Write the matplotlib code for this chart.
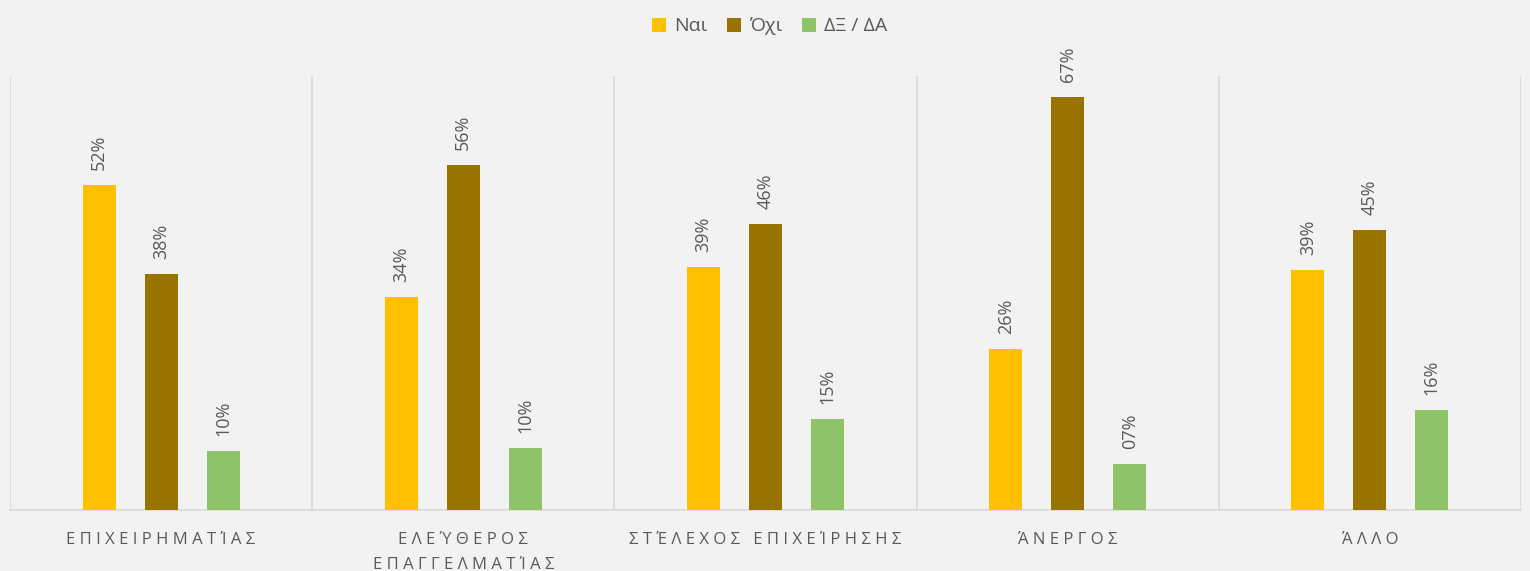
import matplotlib.pyplot as plt
import numpy as np

categories = ["ΕΠΙΧΕΙΡΗΜΑΤΊΑΣ", "ΕΛΕΎΘΕΡΟΣ\nΕΠΑΓΓΕΛΜΑΤΊΑΣ", "ΣΤΈΛΕΧΟΣ ΕΠΙΧΕΊΡΗΣΗΣ",
              "ΆΝΕΡΓΟΣ", "ΆΛΛΟ"]
series_names = ["Ναι", "Όχι", "ΔΞ / ΔΑ"]
nai = [0.525, 0.344, 0.392, 0.260, 0.387]
oxi = [0.381, 0.556, 0.462, 0.666, 0.452]
dk = [0.095, 0.100, 0.147, 0.074, 0.161]
labels_nai = ["52%", "34%", "39%", "26%", "39%"]
labels_oxi = ["38%", "56%", "46%", "67%", "45%"]
labels_dk = ["10%", "10%", "15%", "07%", "16%"]
colors = ["#ffc000", "#997300", "#8fc36a"]

bg = "#f2f2f2"
txt = "#595959"
plt.rcParams['font.family'] = ['Open Sans', 'DejaVu Sans']


def spaced(s):
    # imitate Excel's letter spacing on category labels
    out = []
    for line in s.split("\n"):
        words = [" ".join(list(w)) for w in line.split(" ")]
        out.append("   ".join(words))
    return "\n".join(out)


fig = plt.figure(figsize=(15.3, 5.71), dpi=100, facecolor=bg)
ax = fig.add_axes([10 / 1530, 61 / 571, 1511 / 1530, 434 / 571], facecolor=bg)

x = np.arange(len(categories))
width = 0.109
step = 0.205
all_vals = [nai, oxi, dk]
all_labels = [labels_nai, labels_oxi, labels_dk]
for i, (vals, labs) in enumerate(zip(all_vals, all_labels)):
    pos = x + (i - 1) * step
    ax.bar(pos, vals, width, color=colors[i], label=series_names[i], zorder=3)
    for p, v, lab in zip(pos, vals, labs):
        ax.text(p, v + 0.024, lab, rotation=90, ha="center", va="bottom",
                fontsize=13, color=txt)

ax.set_xlim(-0.5, len(categories) - 0.5)
ax.set_ylim(0, 0.7)
ax.set_yticks([])
ax.set_xticks(x)
ax.set_xticklabels([spaced(c) for c in categories], fontsize=12, color=txt,
                   linespacing=1.75)
ax.tick_params(axis="x", length=0, pad=16)
ax.set_xticks(np.arange(-0.5, len(categories)), minor=True)
ax.tick_params(axis="x", which="minor", length=0)
ax.grid(axis="x", which="minor", color="#d9d9d9", linewidth=1.2, zorder=0)
for s in ["top", "left", "right"]:
    ax.spines[s].set_visible(False)
ax.spines["bottom"].set_color("#d9d9d9")
ax.spines["bottom"].set_linewidth(1.2)

fig.legend(loc="upper center", bbox_to_anchor=(0.503, 1.0), ncol=3, frameon=False,
           fontsize=14, labelcolor=txt, handlelength=0.75, handleheight=0.75,
           handletextpad=0.4, columnspacing=1.0)

fig.savefig("out.png", dpi=100, facecolor=bg)
